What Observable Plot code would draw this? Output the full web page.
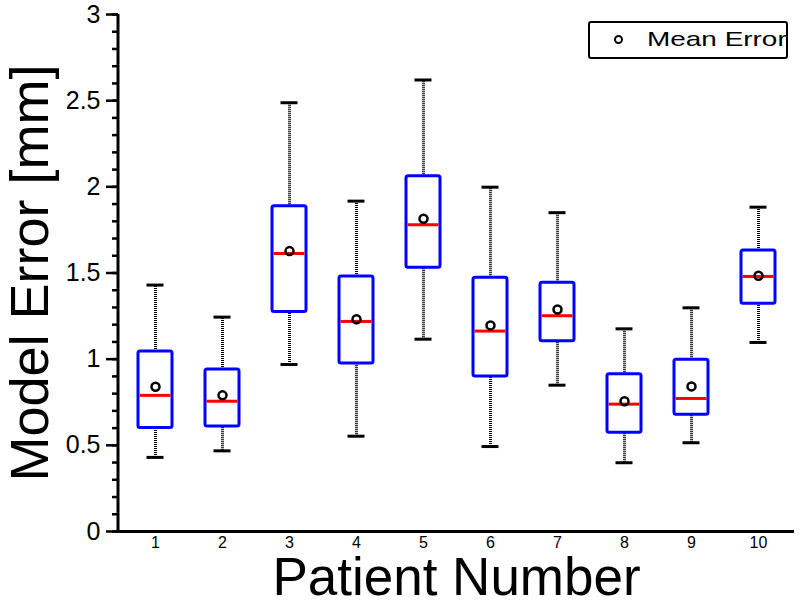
<!DOCTYPE html>
<html>
<head>
<meta charset="utf-8">
<script src="https://cdn.jsdelivr.net/npm/d3@7"></script>
<script src="https://cdn.jsdelivr.net/npm/@observablehq/plot@0.6"></script>
<style>
  html, body { margin: 0; padding: 0; background: white; }
  #wrap { position: relative; width: 800px; height: 605px; font-family: "Liberation Sans", Arial, sans-serif; }
  #legend { position: absolute; left: 588px; top: 21px; width: 200px; height: 38px; box-sizing: border-box;
            border: 2px solid black; border-radius: 3px; background: white; }
  #legend .dot { position: absolute; left: 24px; top: 12px; width: 9px; height: 9px; box-sizing: border-box;
                 border: 2.5px solid black; border-radius: 50%; }
  #legend .txt { position: absolute; left: 57px; top: 4px; font-size: 21px; line-height: 24px; color: black;
                 transform: scaleX(1.33); transform-origin: left center; white-space: nowrap; }
</style>
</head>
<body>
<div id="wrap">
  <div id="chart"></div>
  <div id="legend"><div class="dot"></div><div class="txt">Mean Error</div></div>
</div>
<script>
const patients = ["1", "2", "3", "4", "5", "6", "7", "8", "9", "10"];
const lowerWhisker = [0.43, 0.468, 0.969, 0.553, 1.116, 0.493, 0.849, 0.399, 0.515, 1.097];
const q1 = [0.60, 0.61, 1.273, 0.975, 1.53, 0.90, 1.104, 0.573, 0.677, 1.321];
const median = [0.79, 0.756, 1.613, 1.219, 1.78, 1.163, 1.252, 0.739, 0.772, 1.48];
const q3 = [1.045, 0.94, 1.888, 1.48, 2.062, 1.472, 1.443, 0.913, 0.996, 1.631];
const upperWhisker = [1.43, 1.244, 2.488, 1.917, 2.62, 1.998, 1.85, 1.176, 1.298, 1.882];
const meanError = [0.84, 0.79, 1.627, 1.232, 1.815, 1.196, 1.288, 0.756, 0.842, 1.484];
const yMajorTicks = [0, 0.5, 1, 1.5, 2, 2.5, 3];
const yMinorTicks = [0,0.1,0.2,0.3,0.4,0.5,0.6,0.7,0.8,0.9,1,1.1,1.2,1.3,1.4,1.5,1.6,1.7,1.8,1.9,2,2.1,2.2,2.3,2.4,2.5,2.6,2.7,2.8,2.9,3];
const xTitle = "Patient Number";
const yTitle = "Model Error [mm]";

const rows = patients.map((p, i) => ({
  patient: p, lo: lowerWhisker[i], q1: q1[i], med: median[i], q3: q3[i], hi: upperWhisker[i], mean: meanError[i]
}));

const yAxisLine = (index, scales, values, dims) => {
  const g = d3.create("svg:g");
  g.append("line")
    .attr("x1", dims.marginLeft).attr("x2", dims.marginLeft)
    .attr("y1", scales.y(0) + 1.5).attr("y2", scales.y(3))
    .attr("stroke", "black").attr("stroke-width", 3);
  return g.node();
};

const chart = Plot.plot({
  width: 800,
  height: 605,
  marginLeft: 118,
  marginRight: 6,
  marginTop: 14,
  marginBottom: 74,
  x: { type: "band", domain: patients, paddingInner: 0.495, paddingOuter: 0.2675 },
  y: { domain: [0, 3] },
  style: { fontFamily: "'Liberation Sans', Arial, sans-serif", background: "white", color: "black", overflow: "visible" },
  marks: [
    Plot.ruleX(rows, { x: "patient", y1: "q3", y2: "hi", stroke: "black", strokeWidth: 3, strokeDasharray: "1,1" }),
    Plot.ruleX(rows, { x: "patient", y1: "lo", y2: "q1", stroke: "black", strokeWidth: 3, strokeDasharray: "1,1" }),
    Plot.tickY(rows, { x: "patient", y: "hi", stroke: "black", strokeWidth: 3, insetLeft: 8.5, insetRight: 8.5 }),
    Plot.tickY(rows, { x: "patient", y: "lo", stroke: "black", strokeWidth: 3, insetLeft: 8.5, insetRight: 8.5 }),
    Plot.barY(rows, { x: "patient", y1: "q1", y2: "q3", fill: "white", stroke: "#0000ff", strokeWidth: 3, rx: 2 }),
    Plot.tickY(rows, { x: "patient", y: "med", stroke: "#ff0000", strokeWidth: 3, insetLeft: 1.5, insetRight: 1.5 }),
    Plot.dot(rows, { x: "patient", y: "mean", r: 4, stroke: "black", strokeWidth: 2.5, fill: "none" }),
    Plot.axisY(yMinorTicks, { tickSize: 6, text: null, strokeWidth: 2.5, label: null }),
    Plot.axisY(yMajorTicks, { tickSize: 12, tickPadding: 6, fontSize: 25, strokeWidth: 2.5, label: null, tickFormat: d => String(d) }),
    Plot.axisX({ tickSize: 0, tickPadding: 5, fontSize: 16, label: null }),
    Plot.ruleY([0], { stroke: "black", strokeWidth: 3 }),
    yAxisLine,
    Plot.text([yTitle], { text: d => d, frameAnchor: "left", rotate: -90, dx: -88, fontSize: 54, fill: "black", textAnchor: "middle", lineAnchor: "middle" }),
    Plot.text([xTitle], { text: d => d, frameAnchor: "bottom", dy: 47, fontSize: 53, fill: "black", textAnchor: "middle", lineAnchor: "middle" })
  ]
});
document.getElementById("chart").appendChild(chart);
</script>
</body>
</html>
